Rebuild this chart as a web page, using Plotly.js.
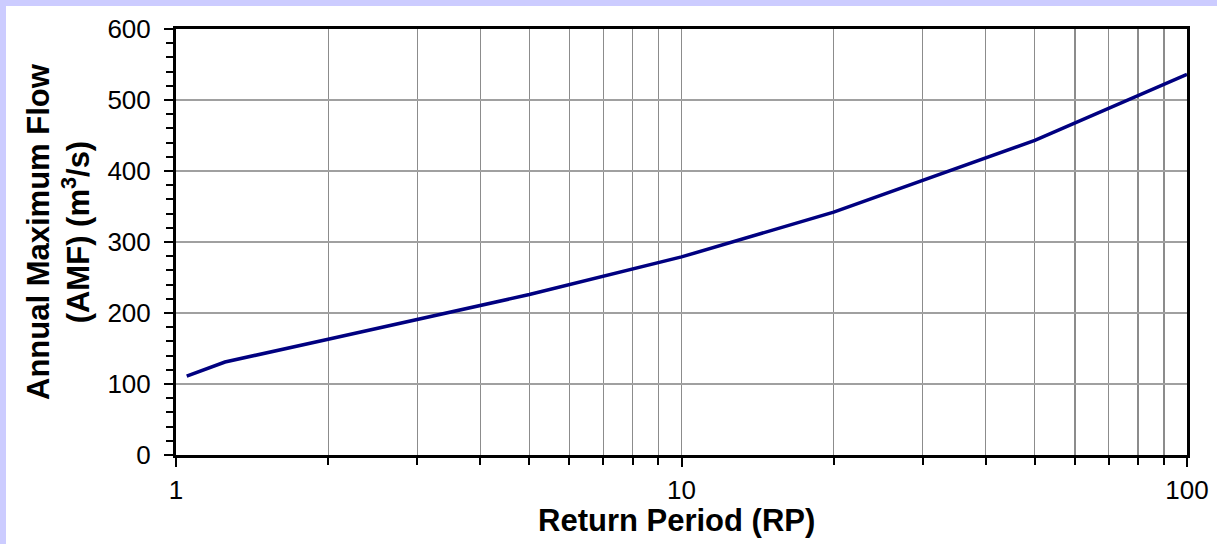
<!DOCTYPE html>
<html>
<head>
<meta charset="utf-8">
<script src="https://cdn.plot.ly/plotly-3.0.1.min.js"></script>
<style>
  html, body { margin: 0; padding: 0; background: #ccccff; width: 1217px; height: 544px; overflow: hidden; }
  #chart { position: absolute; left: 6px; top: 6px; width: 1211px; height: 538px; background: #ffffff; }
</style>
</head>
<body>
<div id="chart"></div>
<script>
// Data
const returnPeriod = [1.05, 1.25, 2, 5, 10, 20, 50, 100];
const annualMaxFlow = [111, 131, 163, 226, 279, 342, 443, 536];

// Axis tick definitions
const xMajorTicks = [1, 10, 100];
const xMajorLabels = ["1", "10", "100"];
const xMinorTicks = [2, 3, 4, 5, 6, 7, 8, 9, 20, 30, 40, 50, 60, 70, 80, 90];
const yMajorTicks = [0, 100, 200, 300, 400, 500, 600];

const FONT = "'Liberation Sans', Arial, Helvetica, sans-serif";

const trace = {
  x: returnPeriod,
  y: annualMaxFlow,
  type: 'scatter',
  mode: 'lines',
  line: { color: '#000080', width: 3.5 },
  hoverinfo: 'skip'
};

const layout = {
  width: 1211,
  height: 538,
  margin: { l: 170, r: 30, t: 23, b: 89 },
  paper_bgcolor: '#ffffff',
  plot_bgcolor: '#ffffff',
  showlegend: false,
  font: { family: FONT, color: '#000000' },
  xaxis: {
    type: 'log',
    range: [0, 2],
    tickmode: 'array',
    tickvals: xMajorTicks,
    ticktext: xMajorLabels,
    ticks: 'outside',
    ticklen: 9,
    tickwidth: 2,
    tickcolor: '#000000',
    ticklabelstandoff: 1,
    tickfont: { family: FONT, size: 26, color: '#000000' },
    showgrid: true,
    gridcolor: '#8c8c8c',
    gridwidth: 1.3,
    showline: true,
    linecolor: '#000000',
    linewidth: 3,
    mirror: true,
    zeroline: false,
    minor: {
      tickmode: 'array',
      tickvals: xMinorTicks,
      ticks: 'outside',
      ticklen: 7,
      tickwidth: 2,
      tickcolor: '#000000',
      showgrid: true,
      gridcolor: '#8c8c8c',
      gridwidth: 1.3
    }
  },
  yaxis: {
    range: [0, 600],
    tickmode: 'array',
    tickvals: yMajorTicks,
    ticks: 'outside',
    ticklen: 9,
    tickwidth: 2,
    tickcolor: '#000000',
    ticklabelstandoff: 8,
    tickfont: { family: FONT, size: 26, color: '#000000' },
    showgrid: true,
    gridcolor: '#a0a0a0',
    gridwidth: 1.3,
    showline: true,
    linecolor: '#000000',
    linewidth: 3,
    mirror: true,
    zeroline: false,
    minor: {
      dtick: 20,
      ticks: 'outside',
      ticklen: 7,
      tickwidth: 2,
      tickcolor: '#000000',
      showgrid: false
    }
  },
  annotations: [
    {
      text: '<b>Annual Maximum Flow<br>(AMF) (m<sup>3</sup>/s)</b>',
      xref: 'paper', yref: 'paper',
      x: 0, y: 0.5,
      xanchor: 'center', yanchor: 'middle',
      xshift: -118, yshift: 10,
      textangle: -90,
      showarrow: false,
      font: { family: FONT, size: 31, color: '#000000' }
    },
    {
      text: '<b>Return Period (RP)</b>',
      xref: 'paper', yref: 'paper',
      x: 0.5, y: 0,
      xanchor: 'center', yanchor: 'middle',
      xshift: -5, yshift: -65,
      showarrow: false,
      font: { family: FONT, size: 31, color: '#000000' }
    }
  ]
};

Plotly.newPlot('chart', [trace], layout, { displayModeBar: false, staticPlot: true });
</script>
</body>
</html>
